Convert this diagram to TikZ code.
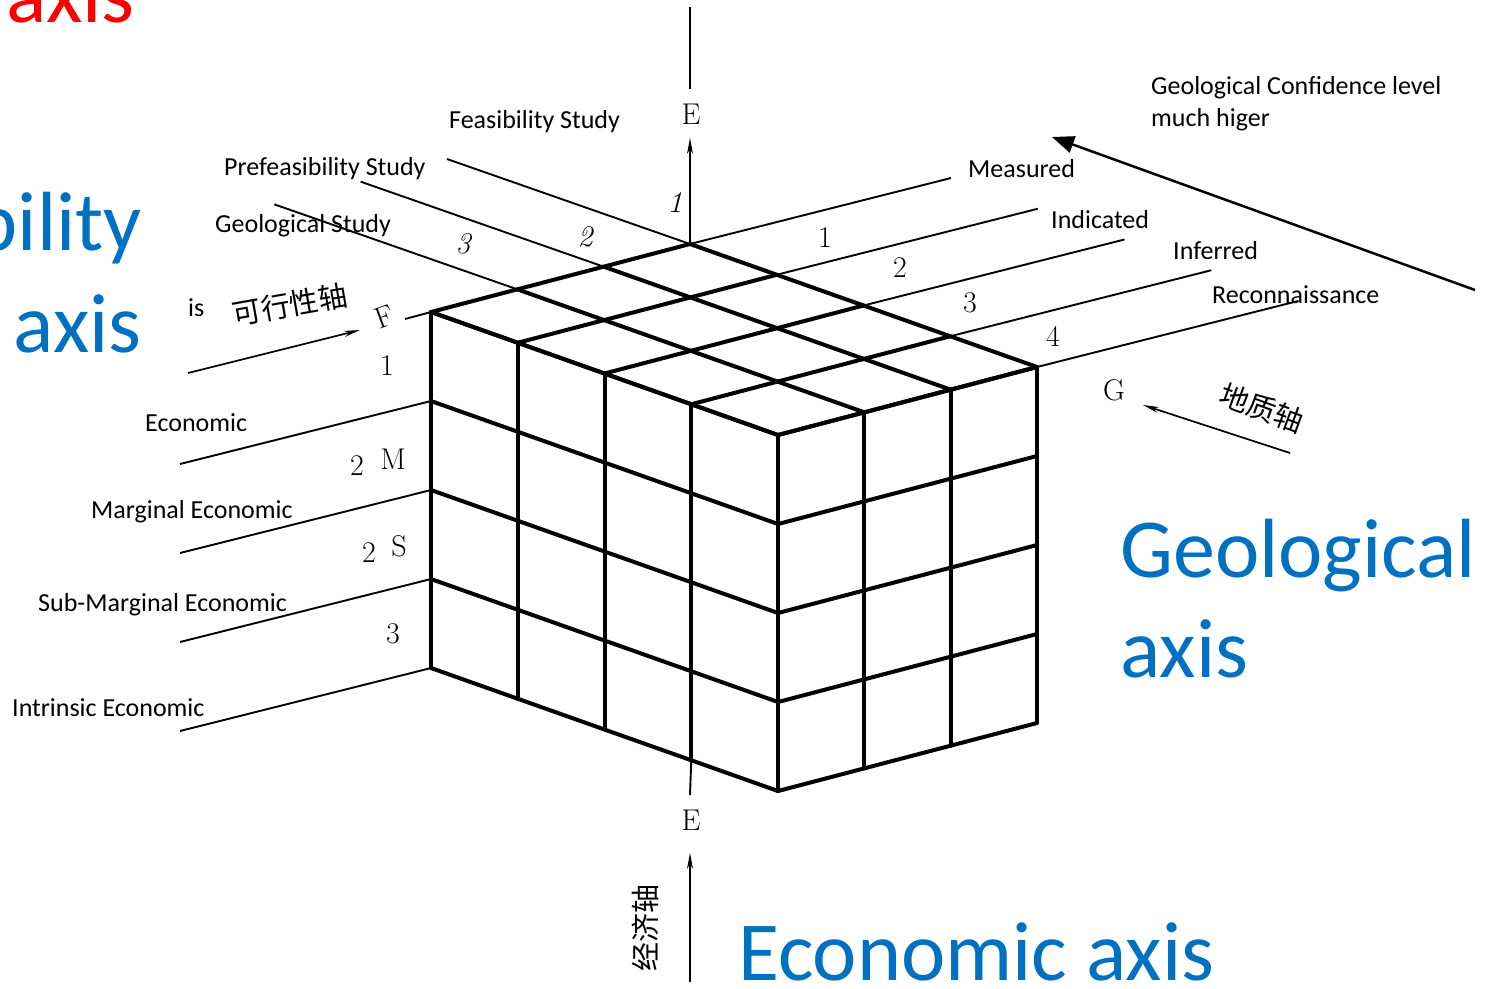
\documentclass[tikz,border=0pt]{standalone}
\usepackage{fontspec}
\newfontfamily\calfont{Carlito}
\newfontfamily\cjkfont{Noto Sans CJK SC}
\usetikzlibrary{arrows.meta,calc}
\definecolor{axblue}{RGB}{0,112,192}
\begin{document}
\begin{tikzpicture}[x=1pt,y=-1pt,
  box/.style={line width=4pt, line cap=round},
  ext/.style={line width=1.9pt},
  thinarrow/.style={line width=1.7pt, -{Stealth[length=16pt,width=6pt]}},
  bigarrow/.style={line width=2.5pt, -{Triangle[length=22pt,width=17pt]}},
  lab/.style={font=\calfont\fontsize{26}{32}\selectfont, inner sep=0pt, anchor=west},
  ser/.style={font=\fontsize{30}{34}\selectfont, inner sep=0pt},
  seri/.style={font=\fontsize{30}{34}\selectfont\itshape, inner sep=0pt},
  cjk/.style={font=\cjkfont\fontsize{29}{32}\selectfont, inner sep=0pt},
  big/.style={font=\calfont\fontsize{84}{100}\selectfont, text=axblue, inner sep=0pt}]
\useasboundingbox (0,0) rectangle (1485,988);

% grid coordinates of the block
\foreach \i in {0,...,4}{\foreach \j in {0,...,3}{\foreach \k in {0,...,4}{
  \coordinate (p-\i-\j-\k) at ({690+86.75*\i-86.33*\j},{244+30.75*\i+22.67*\j+89*\k});
}}}

% top face
\foreach \i in {0,...,4} \draw[box] (p-\i-0-0) -- (p-\i-3-0);
\foreach \j in {0,...,3} \draw[box] (p-0-\j-0) -- (p-4-\j-0);
% left face
\foreach \i in {0,...,4} \draw[box] (p-\i-3-0) -- (p-\i-3-4);
\foreach \k in {0,...,4} \draw[box] (p-0-3-\k) -- (p-4-3-\k);
% right face
\foreach \j in {0,...,3} \draw[box] (p-4-\j-0) -- (p-4-\j-4);
\foreach \k in {0,...,4} \draw[box] (p-4-0-\k) -- (p-4-3-\k);

% extension lines
\foreach \j in {0,1,2} {\coordinate (tl-\j) at ($(p-0-\j-0)+(-243,-85)$); \draw[ext] (p-0-\j-0) -- (tl-\j);}
\foreach \i in {0,...,4} {\coordinate (tr-\i) at ($(p-\i-0-0)+(261,-66)$); \draw[ext] (p-\i-0-0) -- (tr-\i);}
\foreach \k in {1,...,4} {\coordinate (lf-\k) at ($(p-0-3-\k)+(-251,63)$); \draw[ext] (p-0-3-\k) -- (lf-\k);}
\coordinate (lf-0) at ($(p-0-3-0)+(-26,7)$);
\draw[ext] (p-0-3-0) -- (lf-0);

% E axis
\coordinate (Etip) at (690,138);
\coordinate (Eup1) at (690,89);
\coordinate (Eup2) at (690,7);
\coordinate (Ebot1) at (690,795);
\coordinate (Ebot2) at (690,982);
\coordinate (Ebtip) at (690,853);
\draw[thinarrow] (p-0-0-0) -- (Etip);
\draw[ext] (Eup1) -- (Eup2);
\draw[ext] (p-3-3-4) -- (Ebot1);
\draw[thinarrow] (Ebot2) -- (Ebtip);

% F and G arrows, confidence arrow
\coordinate (fa1) at (188,373);
\coordinate (fa2) at (360,330);
\draw[thinarrow] (fa1) -- (fa2);
\coordinate (ga1) at (1290,453);
\coordinate (ga2) at (1143,405);
\draw[thinarrow] (ga1) -- (ga2);
\coordinate (ca1) at (1475,290);
\coordinate (ca2) at (1052,137);
\draw[bigarrow] (ca1) -- (ca2);

% black labels
\node[lab] (feas) at (449,122) {Feasibility Study};
\node[lab] (prefeas) at (224,169) {Prefeasibility Study};
\node[lab] (geostudy) at (215,226) {Geological Study};
\node[lab] (meas) at (968,169) {Measured};
\node[lab] (indi) at (1051,220) {Indicated};
\node[lab] (infe) at (1173,251) {Inferred};
\node[lab] (reco) at (1212,295) {Reconnaissance};
\node[lab,align=left] (conf) at (1151,104) {Geological Confidence level\\much higer};
\node[lab] (eco) at (145,423) {Economic};
\node[lab] (marg) at (91,512) {Marginal Economic};
\node[lab] (sub) at (38,605) {Sub-Marginal Economic};
\node[lab] (intr) at (12,708) {Intrinsic Economic};
\node[lab] (is) at (188,308) {is};

% serif axis letters and numbers
\node[ser] (Et) at (691,114) {E};
\node[ser] (Eb) at (691,820) {E};
\node[ser,rotate=20] (F) at (384,317) {F};
\node[ser] (G) at (1114,390) {G};
\node[seri] (t1) at (675,203) {1};
\node[seri] (t2) at (585,237) {2};
\node[seri] (t3) at (463,244) {3};
\node[ser] (r1) at (825,238) {1};
\node[ser] (r2) at (900,268) {2};
\node[ser] (r3) at (970,303) {3};
\node[ser] (r4) at (1053,336) {4};
\node[ser] (l1) at (387,366) {1};
\node[ser] (l2a) at (357,466) {2};
\node[ser] (l2M) at (393,459) {M};
\node[ser] (l2b) at (369,553) {2};
\node[ser] (l2S) at (399,546) {S};
\node[ser] (l3) at (393,634) {3};

% Chinese axis names
\node[cjk,rotate=10] (kx) at (290,305) {可行性轴};
\node[cjk,rotate=-20] (dz) at (1262,408) {地质轴};
\node[cjk,rotate=90] (jj) at (645,928) {经济轴};

% big blue captions
\node[big,anchor=base east,text=red] (ax0) at (135,22) {axis};
\node[big,anchor=base east] (bil) at (142,250) {bility};
\node[big,anchor=base east] (ax1) at (142,352) {axis};
\node[big,anchor=base west] (geo) at (1120,577) {Geological};
\node[big,anchor=base west] (ax2) at (1120,677) {axis};
\node[big,anchor=base west] (ecoax) at (738,980) {Economic axis};
\end{tikzpicture}
\end{document}
